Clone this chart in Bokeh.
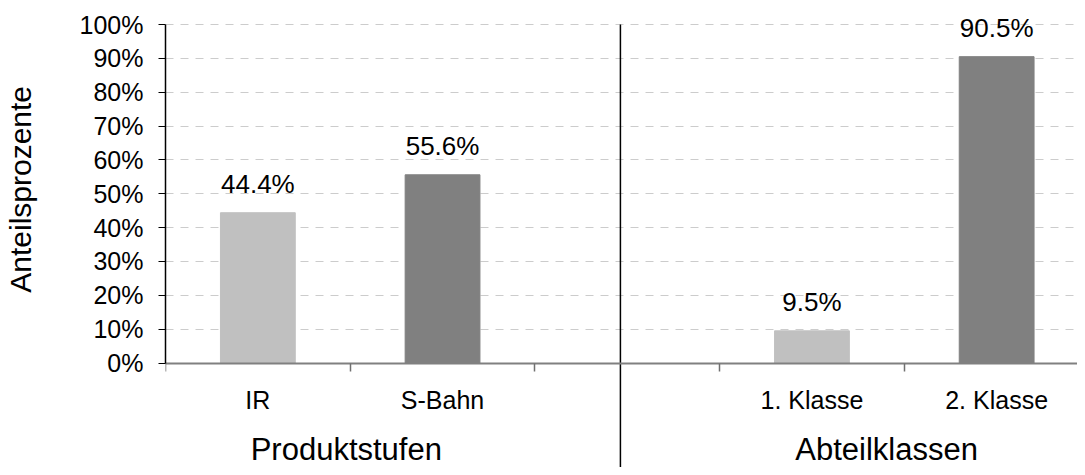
from bokeh.plotting import figure
from bokeh.models import (ColumnDataSource, Range1d, FixedTicker, PrintfTickFormatter,
                          LabelSet, LinearAxis)
from bokeh.core.properties import value
from bokeh.embed import file_html
from bokeh.resources import INLINE

# ---- data ----
axis_slots = ["IR", "S-Bahn", "", "1. Klasse", "2. Klasse"]
categories = ["IR", "S-Bahn", "1. Klasse", "2. Klasse"]
values = [44.4, 55.6, 9.5, 90.5]
bar_colors = ["#c0c0c0", "#808080", "#c0c0c0", "#808080"]
group_names = ["Produktstufen", "Abteilklassen"]
y_ticks = list(range(0, 101, 10))
y_title = "Anteilsprozente"

FONT = "Liberation Sans"

x_pos = [axis_slots.index(c) + 0.5 for c in categories]
src = ColumnDataSource(dict(x=x_pos, top=values, color=bar_colors,
                            label=[f"{v:.1f}%" for v in values]))

# layout (pixels -> ranges)
PX_PER_CAT = 184.7
PX_PER_PCT = 3.385
FRAME_L, FRAME_R = 165, 1077
FRAME_T, FRAME_B, ZERO_Y = 8, 467, 362.5

p = figure(width=1077, height=467, output_backend="svg", toolbar_location=None,
           x_range=Range1d(0, (FRAME_R - FRAME_L) / PX_PER_CAT),
           y_range=Range1d((ZERO_Y - FRAME_B) / PX_PER_PCT, (ZERO_Y - FRAME_T) / PX_PER_PCT),
           x_axis_location=None,
           min_border_left=FRAME_L, min_border_right=0,
           min_border_top=FRAME_T, min_border_bottom=0)
p.outline_line_color = None
p.background_fill_color = "white"
p.border_fill_color = "white"

p.vbar(x="x", top="top", width=0.405, color="color", source=src)

# y axis
yax = p.yaxis[0]
yax.ticker = FixedTicker(ticks=y_ticks)
yax.bounds = (0, 100)
yax.formatter = PrintfTickFormatter(format="%d%%")
yax.major_label_text_font = FONT
yax.major_label_text_font_size = "25px"
yax.major_label_text_color = "black"
yax.major_tick_out = 7
yax.major_tick_in = 0
yax.minor_tick_line_color = None
yax.axis_line_color = "black"
yax.axis_line_width = 1.5
yax.major_tick_line_color = "black"
yax.major_label_standoff = 15

# y title: an outer left axis whose single label sits at the middle of 0..100 %
title_pos = (y_ticks[0] + y_ticks[-1]) / 2 + 1.3
tax = LinearAxis(ticker=FixedTicker(ticks=[title_pos]),
                 major_label_overrides={title_pos: y_title},
                 major_label_orientation="vertical",
                 axis_line_color=None, major_tick_line_color=None,
                 minor_tick_line_color=None, major_tick_out=0, major_tick_in=0,
                 major_label_standoff=39,
                 major_label_text_font=FONT, major_label_text_font_size="30px",
                 major_label_text_color="black")
p.add_layout(tax, "left")

# x axis at y = 0: labels at category centres, ticks at boundaries
label_ticks = [i + 0.5 for i, c in enumerate(axis_slots) if c]
xax = LinearAxis(fixed_location=0,
                 ticker=FixedTicker(ticks=label_ticks,
                                    minor_ticks=list(range(len(axis_slots) + 1))))
xax.major_label_overrides = {i + 0.5: c for i, c in enumerate(axis_slots) if c}
xax.major_tick_line_color = None
xax.major_tick_out = 0
xax.major_tick_in = 0
xax.minor_tick_out = 8
xax.minor_tick_in = 0
xax.minor_tick_line_color = "#707070"
xax.minor_tick_line_width = 1.5
xax.axis_line_color = "#808080"
xax.axis_line_width = 2
xax.major_label_text_font = FONT
xax.major_label_text_font_size = "25px"
xax.major_label_text_color = "black"
xax.major_label_standoff = 15
p.add_layout(xax, "below")

p.xgrid.grid_line_color = None
p.ygrid.ticker = FixedTicker(ticks=y_ticks[1:])
p.ygrid.grid_line_color = "#cccccc"
p.ygrid.grid_line_dash = "8 7"
p.ygrid.grid_line_width = 1

# value labels
p.add_layout(LabelSet(x="x", y="top", text="label", source=src, text_align="center",
                      text_baseline="alphabetic", y_offset=20,
                      text_font=value(FONT), text_font_size="26px", text_color="black"))

# group titles
gsrc = ColumnDataSource(dict(x=[0.979, 3.904], y=[-28.6, -28.6], text=group_names))
p.add_layout(LabelSet(x="x", y="y", text="text", source=gsrc, text_align="center",
                      text_baseline="alphabetic", text_font=value(FONT),
                      text_font_size="31px", text_color="black"))

# group separator
p.segment(x0=[2.463], y0=[100], x1=[2.463], y1=[p.y_range.start], line_color="black",
          line_width=1.5)

open("out.html", "w").write(file_html(p, INLINE))
